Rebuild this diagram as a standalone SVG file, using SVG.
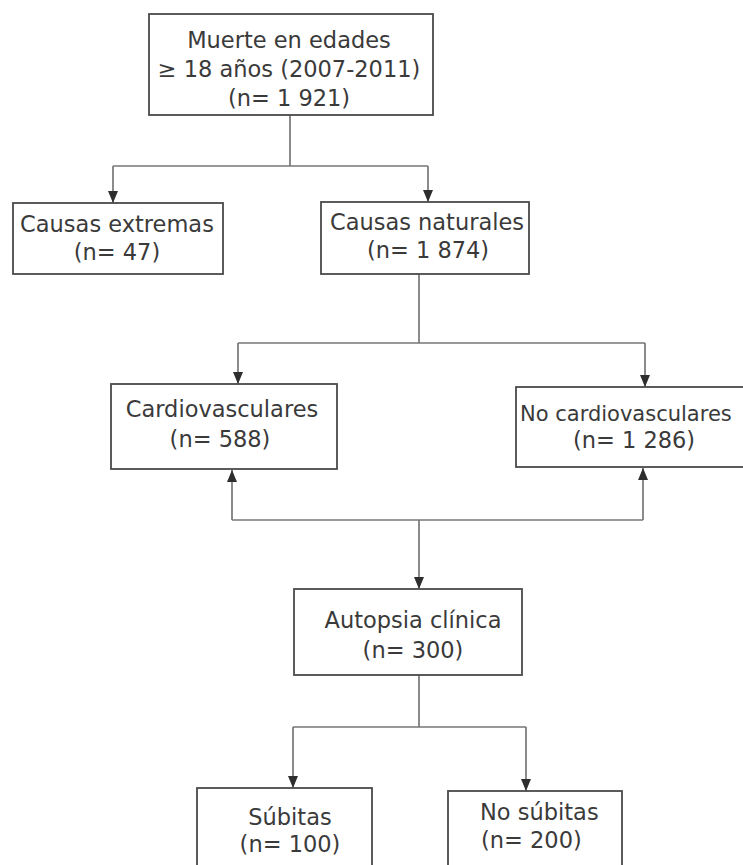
<svg xmlns="http://www.w3.org/2000/svg" width="743" height="865" viewBox="0 0 743 865">
<style>
.box{fill:#fff;stroke:#4a4a4a;stroke-width:1.8}
.t{font-family:"DejaVu Sans","Liberation Sans",sans-serif;font-size:22.5px;fill:#3a3a3a}
.c{text-anchor:middle}
.ln{fill:none;stroke:#777;stroke-width:1.7}
</style>
<defs>
<marker id="ah" markerUnits="userSpaceOnUse" markerWidth="12" markerHeight="10" refX="12" refY="5" orient="auto">
<path d="M0,0 L12,5 L0,10 z" fill="#2e2e2e"/>
</marker>
</defs>
<rect width="743" height="865" fill="#fff"/>
<g id="connectors">
<path class="ln" d="M290,115 V166 M113,166 H428"/>
<path class="ln" d="M113,166 V203" marker-end="url(#ah)"/>
<path class="ln" d="M428,166 V202" marker-end="url(#ah)"/>
<path class="ln" d="M419,274 V343 M238,343 H645"/>
<path class="ln" d="M238,343 V384" marker-end="url(#ah)"/>
<path class="ln" d="M645,343 V387" marker-end="url(#ah)"/>
<path class="ln" d="M232,520 H643"/>
<path class="ln" d="M232,520 V470" marker-end="url(#ah)"/>
<path class="ln" d="M643,520 V468" marker-end="url(#ah)"/>
<path class="ln" d="M419,520 V589" marker-end="url(#ah)"/>
<path class="ln" d="M419,675 V727 M293,727 H526"/>
<path class="ln" d="M293,727 V788" marker-end="url(#ah)"/>
<path class="ln" d="M526,727 V791" marker-end="url(#ah)"/>
</g>
<g id="n-muerte">
<rect class="box" x="149" y="14" width="284" height="101"/>
<text class="t c" x="289" y="48">Muerte en edades</text>
<text class="t c" x="289" y="77">≥ 18 años (2007-2011)</text>
<text class="t c" x="289" y="106">(n= 1 921)</text>
</g>
<g id="n-extremas">
<rect class="box" x="13" y="203" width="210" height="71"/>
<text class="t c" x="117" y="232">Causas extremas</text>
<text class="t c" x="117" y="260">(n= 47)</text>
</g>
<g id="n-naturales">
<rect class="box" x="321" y="202" width="208" height="72"/>
<text class="t c" x="427" y="230">Causas naturales</text>
<text class="t c" x="428" y="258">(n= 1 874)</text>
</g>
<g id="n-cardio">
<rect class="box" x="111" y="384" width="226" height="85"/>
<text class="t c" x="222" y="417">Cardiovasculares</text>
<text class="t c" x="220" y="447">(n= 588)</text>
</g>
<g id="n-nocardio">
<rect class="box" x="516" y="387" width="250" height="80"/>
<text class="t" x="520" y="421" style="font-size:21px">No cardiovasculares</text>
<text class="t c" x="634" y="448">(n= 1 286)</text>
</g>
<g id="n-autopsia">
<rect class="box" x="294" y="589" width="228" height="86"/>
<text class="t c" x="413" y="628">Autopsia clínica</text>
<text class="t c" x="413" y="658">(n= 300)</text>
</g>
<g id="n-subitas">
<rect class="box" x="197" y="788" width="175" height="90"/>
<text class="t c" x="290" y="825">Súbitas</text>
<text class="t c" x="290" y="852">(n= 100)</text>
</g>
<g id="n-nosubitas">
<rect class="box" x="448" y="791" width="174" height="90"/>
<text class="t" x="480" y="820">No súbitas</text>
<text class="t" x="481" y="848">(n= 200)</text>
</g>
</svg>
